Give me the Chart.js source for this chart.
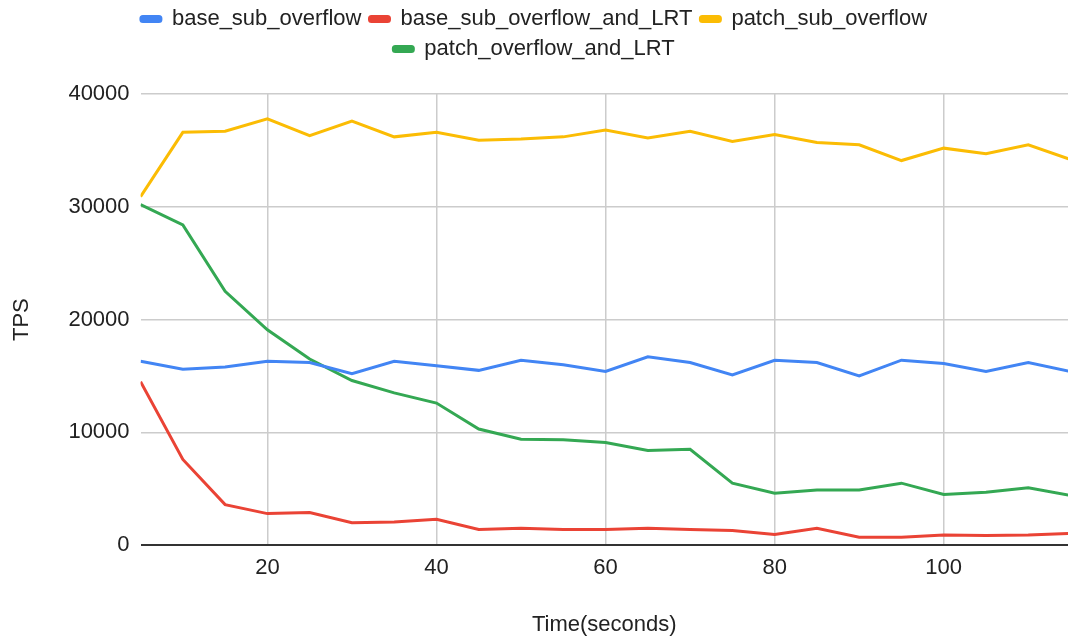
<!DOCTYPE html>
<html lang="en">
<head>
  <meta charset="UTF-8">
  <title>TPS over time</title>
  <script src="https://cdn.jsdelivr.net/npm/chart.js"></script>
  <style>
    body {
      background-color: #fff;
      margin: 0;
      padding: 0;
    }
    .chart-box {
      width: 1068px;
      height: 636px;
    }
  </style>
</head>
<body>

  <div class="chart-box"><canvas id="tpsChart"></canvas></div>

  <script>
    const times = [5, 10, 15, 20, 25, 30, 35, 40, 45, 50, 55, 60, 65, 70, 75, 80, 85, 90, 95, 100, 105, 110, 115];

    const baseSubOverflow = [16300, 15600, 15800, 16300, 16200, 15200, 16300, 15900, 15500, 16400, 16000, 15400,
      16700, 16200, 15100, 16400, 16200, 15000, 16400, 16100, 15400, 16200, 15400];
    const baseSubOverflowLRT = [14500, 7600, 3600, 2800, 2900, 2000, 2050, 2300, 1400, 1500, 1400, 1400,
      1500, 1400, 1300, 950, 1500, 700, 700, 900, 850, 900, 1050];
    const patchSubOverflow = [30900, 36600, 36700, 37800, 36300, 37600, 36200, 36600, 35900, 36000, 36200, 36800,
      36100, 36700, 35800, 36400, 35700, 35500, 34100, 35200, 34700, 35500, 34200];
    const patchOverflowLRT = [30200, 28400, 22500, 19100, 16500, 14600, 13500, 12600, 10300, 9400, 9350, 9100,
      8400, 8500, 5500, 4600, 4900, 4900, 5500, 4500, 4700, 5100, 4400];

    const xTicks = [20, 40, 60, 80, 100];
    const yTicks = [0, 10000, 20000, 30000, 40000];

    const font = { family: "'Liberation Sans', Arial, sans-serif", size: 22 };
    const toPoints = values => values.map((v, i) => ({ x: times[i], y: v }));

    const series = (label, values, color) => ({
      label,
      data: toPoints(values),
      borderColor: color,
      backgroundColor: color,
      borderWidth: 3,
      pointRadius: 0,
      tension: 0
    });

    const tpsChart = new Chart(document.getElementById("tpsChart").getContext("2d"), {
      type: 'line',
      data: {
        datasets: [
          series('base_sub_overflow', baseSubOverflow, '#4285f4'),
          series('base_sub_overflow_and_LRT', baseSubOverflowLRT, '#ea4335'),
          series('patch_sub_overflow', patchSubOverflow, '#fbbc04'),
          series('patch_overflow_and_LRT', patchOverflowLRT, '#34a853')
        ]
      },
      options: {
        responsive: true,
        maintainAspectRatio: false,
        animation: false,
        layout: { padding: 0 },
        plugins: {
          tooltip: { enabled: false },
          legend: {
            position: 'top',
            labels: {
              color: '#222',
              font,
              boxWidth: 20,
              boxHeight: 5,
              padding: 8,
              useBorderRadius: true,
              borderRadius: 2
            }
          },
          // empty box between legend and plot, just for spacing
          subtitle: {
            display: true,
            text: '',
            weight: 500,
            padding: 0,
            font: { size: 20 }
          }
        },
        scales: {
          x: {
            type: 'linear',
            min: 5,
            max: 114.7,
            afterBuildTicks: scale => { scale.ticks = xTicks.map(v => ({ value: v })); },
            ticks: { color: '#222', font, padding: 10, maxRotation: 0, callback: v => String(v) },
            grid: { color: '#cccccc', lineWidth: 1.5, drawTicks: false },
            border: { display: false },
            title: {
              display: true,
              text: 'Time(seconds)',
              color: '#222',
              font,
              padding: { top: 20, bottom: -2 }
            }
          },
          y: {
            min: 0,
            max: 40000,
            afterBuildTicks: scale => { scale.ticks = yTicks.map(v => ({ value: v })); },
            ticks: { color: '#222', font, padding: 11, callback: v => String(v) },
            grid: {
              color: ctx => ctx.tick && ctx.tick.value === 0 ? '#333333' : '#cccccc',
              lineWidth: ctx => ctx.tick && ctx.tick.value === 0 ? 2 : 1.5,
              drawTicks: false
            },
            border: { display: false },
            title: {
              display: true,
              text: 'TPS',
              color: '#222',
              font,
              padding: { top: 9, bottom: 22 }
            }
          }
        }
      }
    });
  </script>

</body>
</html>
